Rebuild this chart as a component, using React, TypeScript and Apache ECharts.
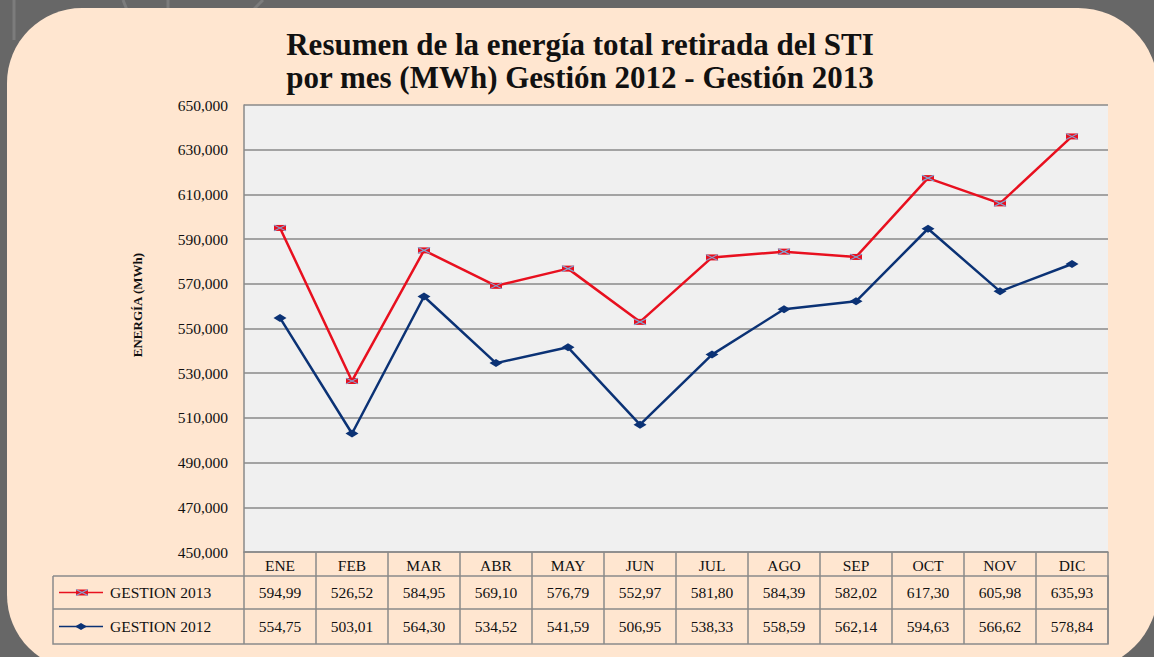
import React, { useEffect, useRef } from "react";
import * as echarts from "echarts";

const categories = ["ENE", "FEB", "MAR", "ABR", "MAY", "JUN", "JUL", "AGO", "SEP", "OCT", "NOV", "DIC"];
const gestion2013 = [594.99, 526.52, 584.95, 569.1, 576.79, 552.97, 581.8, 584.39, 582.02, 617.3, 605.98, 635.93];
const gestion2012 = [554.75, 503.01, 564.3, 534.52, 541.59, 506.95, 538.33, 558.59, 562.14, 594.63, 566.62, 578.84];
const seriesNames = ["GESTION 2013", "GESTION 2012"];
const yMin = 450000;
const yMax = 650000;
const yStep = 20000;

const FONT = "'Liberation Serif', 'DejaVu Serif', serif";
const RED = "#E8101F";
const BLUE = "#0B3275";
const XBLUE = "#7FA8D8";
const GRID_C = "#8a8a8a";
const PEACH = "#FFE6D0";

const G_LEFT = 244;
const G_TOP = 105;
const G_W = 864;
const G_H = 447;

const fmtTable = (v: number) => v.toFixed(2).replace(".", ",");
const fmtAxis = (v: number) => v.toLocaleString("en-US");

export default function App() {
  const ref = useRef<HTMLDivElement>(null);
  useEffect(() => {
    document.body.style.margin = "0";
    const chart = echarts.init(ref.current!, undefined, { renderer: "svg" });
    const colW = G_W / categories.length;
    const tableTop = G_TOP + G_H;
    const row1Top = tableTop + 24;
    const row2Top = row1Top + 33;
    const tableBottom = row2Top + 35;
    const tableLeft = 53;

    const graphics: any[] = [];
    graphics.push({
      type: "rect", z: -10, silent: true,
      shape: { x: 0, y: 0, width: 1154, height: 657 },
      style: { fill: "#676767" },
    });
    const stripes = [
      [14, 0, 14, 40], [123, 0, 127, 10], [168, 0, 168, 10], [253, 10, 263, 0],
    ];
    stripes.forEach((s) =>
      graphics.push({
        type: "line", z: -9, silent: true,
        shape: { x1: s[0], y1: s[1], x2: s[2], y2: s[3] },
        style: { stroke: "#7c7c7c", lineWidth: 3 },
      })
    );
    graphics.push({
      type: "rect", z: -8, silent: true,
      shape: { x: 7, y: 8, width: 1151, height: 662, r: [75, 80, 80, 75] },
      style: { fill: PEACH },
    });
    const rowTops = [row1Top, row2Top, tableBottom];
    graphics.push({
      type: "polyline", z: 5, silent: true,
      shape: { points: [[tableLeft, row1Top], [tableLeft, tableBottom], [G_LEFT + G_W, tableBottom], [G_LEFT + G_W, row1Top], [tableLeft, row1Top]] },
      style: { stroke: GRID_C, lineWidth: 1.5, fill: null },
    });
    graphics.push({
      type: "line", z: 5, silent: true,
      shape: { x1: tableLeft, y1: row2Top, x2: G_LEFT + G_W, y2: row2Top },
      style: { stroke: GRID_C, lineWidth: 1.5 },
    });
    for (let i = 0; i <= categories.length; i++) {
      const x = G_LEFT + i * colW;
      graphics.push({
        type: "line", z: 5, silent: true,
        shape: { x1: x, y1: row1Top, x2: x, y2: tableBottom },
        style: { stroke: GRID_C, lineWidth: 1.5 },
      });
    }
    const rowsData = [gestion2013, gestion2012];
    rowsData.forEach((arr, r) => {
      const cy = (rowTops[r] + rowTops[r + 1]) / 2;
      arr.forEach((v, i) => {
        graphics.push({
          type: "text", z: 6, silent: true,
          x: G_LEFT + colW * (i + 0.5), y: cy,
          style: { text: fmtTable(v), font: `15.5px ${FONT}`, fill: "#111", align: "center", verticalAlign: "middle" },
        });
      });
      const color = r === 0 ? RED : BLUE;
      graphics.push({
        type: "line", z: 6, silent: true,
        shape: { x1: 59, y1: cy, x2: 103, y2: cy },
        style: { stroke: color, lineWidth: 1.5 },
      });
      if (r === 0) {
        graphics.push({ type: "rect", z: 7, silent: true, shape: { x: 76, y: cy - 3, width: 12, height: 6 }, style: { fill: RED } });
        graphics.push({ type: "line", z: 8, silent: true, shape: { x1: 76, y1: cy - 3, x2: 88, y2: cy + 3 }, style: { stroke: XBLUE, lineWidth: 1.2 } });
        graphics.push({ type: "line", z: 8, silent: true, shape: { x1: 76, y1: cy + 3, x2: 88, y2: cy - 3 }, style: { stroke: XBLUE, lineWidth: 1.2 } });
      } else {
        graphics.push({ type: "polygon", z: 7, silent: true, shape: { points: [[75, cy], [81, cy - 3.5], [87, cy], [81, cy + 3.5]] }, style: { fill: BLUE } });
      }
      graphics.push({
        type: "text", z: 6, silent: true,
        x: 110, y: cy,
        style: { text: seriesNames[r], font: `15.5px ${FONT}`, fill: "#111", align: "left", verticalAlign: "middle" },
      });
    });
    graphics.push({
      type: "text", z: 6, silent: true, x: 580, y: 61,
      style: {
        text: "Resumen de la energía total retirada del STI\npor mes (MWh) Gestión 2012 - Gestión 2013",
        font: `bold 31px ${FONT}`, fill: "#111", align: "center", verticalAlign: "middle", lineHeight: 33,
      },
    });
    graphics.push({
      type: "text", z: 6, silent: true, x: 137, y: 305, rotation: Math.PI / 2,
      style: {
        text: "ENERGÍA (MWh)",
        font: `bold 13px ${FONT}`, fill: "#111", align: "center", verticalAlign: "middle",
      },
    });

    chart.setOption({
      animation: false,
      backgroundColor: "transparent",
      graphic: graphics,
      grid: { left: G_LEFT, top: G_TOP, width: G_W, height: G_H, show: true, backgroundColor: "#F0F0F0", borderWidth: 0 },
      xAxis: {
        type: "category",
        data: categories,
        boundaryGap: true,
        axisLine: { show: true, lineStyle: { color: GRID_C, width: 1.5 } },
        axisTick: { show: true, inside: false, length: 24, alignWithLabel: false, lineStyle: { color: GRID_C, width: 1.5 } },
        axisLabel: { color: "#111", fontFamily: FONT, fontSize: 15.5, margin: 5 },
      },
      yAxis: {
        type: "value",
        min: yMin, max: yMax, interval: yStep,
        axisLine: { show: true, lineStyle: { color: GRID_C, width: 1.5 } },
        axisTick: { show: false },
        axisLabel: { color: "#111", fontFamily: FONT, fontSize: 15.5, margin: 16, formatter: (v: number) => fmtAxis(v) },
        splitLine: { show: true, lineStyle: { color: GRID_C, width: 1.5 } },
      },
      series: [
        {
          name: seriesNames[0],
          type: "line",
          data: gestion2013.map((v) => v * 1000),
          symbol: "rect",
          symbolSize: [12, 6],
          showAllSymbol: true,
          lineStyle: { color: RED, width: 2.5 },
          itemStyle: { color: RED },
          z: 4,
        },
        {
          name: seriesNames[0] + " marca",
          type: "line",
          data: gestion2013.map((v) => v * 1000),
          symbol: "path://M0,0L12,6M0,6L12,0",
          symbolSize: [12, 6],
          showAllSymbol: true,
          lineStyle: { width: 0, opacity: 0 },
          itemStyle: { color: "none", borderColor: XBLUE, borderWidth: 1.2 },
          silent: true,
          z: 5,
        },
        {
          name: seriesNames[1],
          type: "line",
          data: gestion2012.map((v) => v * 1000),
          symbol: "diamond",
          symbolSize: [13, 8],
          showAllSymbol: true,
          lineStyle: { color: BLUE, width: 2.5 },
          itemStyle: { color: BLUE },
          z: 3,
        },
      ],
    });
    return () => chart.dispose();
  }, []);
  return <div ref={ref} style={{ width: 1154, height: 657 }} />;
}
